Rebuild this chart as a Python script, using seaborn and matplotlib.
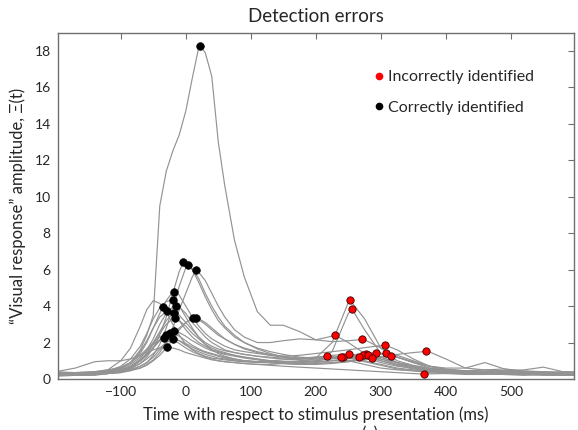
import matplotlib
matplotlib.use('Agg')
import matplotlib.pyplot as plt
from matplotlib.lines import Line2D
import seaborn as sns
import pandas as pd

# sample times (ms) shared by all trials
time_ms = [-200, -170, -140, -120, -100, -85, -70, -60, -50, -40,
           -30, -20, -10, 0, 10, 20, 30, 40, 50, 60,
           75, 90, 110, 130, 150, 175, 200, 225, 250, 275,
           300, 325, 350, 375, 400, 430, 460, 490, 520, 550,
           580, 600]

# visual response amplitude per trial
trial_00 = [0.30, 0.25, 0.35, 0.45, 0.60, 0.90, 1.60, 2.40, 3.50, 9.50,
            11.4, 12.5, 13.4, 14.7, 16.5, 18.2, 17.9, 16.6, 13.0, 10.6,
            7.6, 5.6, 3.7, 2.95, 2.95, 2.6, 2.15, 2.35, 2.0, 1.4,
            1.0, 0.8, 0.7, 0.55, 0.45, 0.4, 0.35, 0.35, 0.3, 0.3,
            0.35, 0.35]
trial_01 = [0.20, 0.25, 0.30, 0.30, 0.40, 0.55, 0.85, 1.20, 1.70, 2.40,
            3.40, 4.70, 5.90, 6.30, 6.00, 5.30, 4.50, 3.80, 3.20, 2.80,
            2.30, 2.00, 1.70, 1.50, 1.35, 1.20, 1.15, 2.00, 4.20, 3.30,
            1.70, 1.00, 0.75, 0.60, 0.50, 0.45, 0.50, 0.45, 0.40, 0.35,
            0.30, 0.30]
trial_02 = [0.30, 0.30, 0.25, 0.30, 0.35, 0.50, 0.70, 0.90, 1.30, 1.90,
            2.80, 3.90, 5.10, 6.10, 6.05, 5.50, 4.70, 4.00, 3.40, 2.90,
            2.40, 2.00, 1.65, 1.40, 1.20, 1.05, 0.95, 1.50, 3.60, 2.70,
            1.40, 0.90, 0.70, 0.55, 0.45, 0.40, 0.35, 0.30, 0.30, 0.35,
            0.40, 0.40]
trial_03 = [0.25, 0.30, 0.35, 0.35, 0.40, 0.50, 0.60, 0.80, 1.05, 1.45,
            2.00, 2.80, 3.80, 4.70, 5.60, 5.85, 5.40, 4.70, 4.00, 3.40,
            2.70, 2.30, 2.00, 2.00, 2.10, 2.20, 2.15, 2.05, 2.10, 2.15,
            1.70, 1.20, 0.90, 0.70, 0.60, 0.60, 0.90, 0.55, 0.40, 0.35,
            0.30, 0.30]
trial_04 = [0.35, 0.30, 0.35, 0.45, 0.60, 0.90, 1.40, 2.00, 2.80, 3.60,
            4.30, 4.78, 4.60, 4.00, 3.40, 2.90, 2.50, 2.20, 2.00, 1.80,
            1.60, 1.50, 1.40, 1.30, 1.25, 1.30, 1.40, 1.50, 1.60, 1.72,
            1.83, 1.60, 1.10, 0.70, 0.50, 0.45, 0.50, 0.55, 0.45, 0.40,
            0.35, 0.35]
trial_05 = [0.20, 0.25, 0.30, 0.40, 0.70, 1.10, 1.80, 2.50, 3.30, 3.90,
            4.25, 4.34, 4.00, 3.40, 2.80, 2.30, 1.90, 1.60, 1.40, 1.25,
            1.10, 1.00, 0.95, 0.90, 0.85, 0.80, 0.85, 0.90, 1.00, 1.10,
            1.20, 1.35, 1.45, 1.48, 1.10, 0.60, 0.50, 0.40, 0.35, 0.30,
            0.30, 0.30]
trial_06 = [0.30, 0.25, 0.30, 0.35, 0.50, 0.70, 1.10, 1.60, 2.20, 3.00,
            3.60, 3.95, 3.95, 3.60, 3.10, 2.70, 2.30, 2.00, 1.80, 1.60,
            1.45, 1.35, 1.25, 1.15, 1.10, 1.10, 1.15, 1.20, 1.30, 1.40,
            1.42, 1.20, 0.90, 0.60, 0.45, 0.35, 0.30, 0.35, 0.40, 0.30,
            0.25, 0.25]
trial_07 = [0.30, 0.35, 0.40, 0.50, 1.00, 1.70, 2.90, 3.80, 4.30, 4.15,
            3.70, 3.00, 2.40, 1.90, 1.60, 1.40, 1.25, 1.15, 1.10, 1.05,
            1.00, 0.95, 0.95, 1.00, 1.05, 1.10, 1.20, 1.22, 1.00, 0.80,
            0.60, 0.50, 0.45, 0.40, 0.35, 0.30, 0.30, 0.35, 0.40, 0.35,
            0.30, 0.30]
trial_08 = [0.20, 0.30, 0.35, 0.40, 0.60, 0.90, 1.50, 2.10, 2.80, 3.40,
            3.70, 3.60, 3.20, 2.70, 2.30, 2.00, 1.80, 1.60, 1.50, 1.40,
            1.30, 1.20, 1.10, 1.00, 0.95, 0.90, 0.95, 1.00, 1.10, 1.25,
            1.38, 1.30, 1.00, 0.70, 0.50, 0.40, 0.35, 0.30, 0.30, 0.35,
            0.30, 0.30]
trial_09 = [0.35, 0.30, 0.25, 0.30, 0.40, 0.60, 1.00, 1.40, 2.00, 2.60,
            3.20, 3.60, 3.50, 3.10, 2.70, 2.30, 2.00, 1.80, 1.65, 1.55,
            1.45, 1.35, 1.25, 1.20, 1.15, 1.15, 1.20, 1.30, 1.36, 1.20,
            0.90, 0.70, 0.60, 0.50, 0.40, 0.35, 0.30, 0.30, 0.25, 0.30,
            0.35, 0.35]
trial_10 = [0.25, 0.20, 0.25, 0.30, 0.35, 0.45, 0.60, 0.75, 1.00, 1.30,
            1.70, 2.20, 2.70, 3.10, 3.33, 3.25, 3.00, 2.70, 2.40, 2.20,
            1.90, 1.70, 1.50, 1.35, 1.25, 1.15, 1.10, 1.15, 1.25, 1.35,
            1.20, 0.90, 0.70, 0.55, 0.45, 0.40, 0.35, 0.30, 0.30, 0.30,
            0.25, 0.25]
trial_11 = [0.30, 0.35, 0.30, 0.30, 0.40, 0.50, 0.70, 0.90, 1.20, 1.60,
            2.00, 2.40, 2.80, 3.10, 3.30, 3.30, 3.10, 2.80, 2.50, 2.20,
            1.90, 1.65, 1.45, 1.30, 1.20, 1.10, 1.10, 1.15, 1.25, 1.30,
            1.10, 0.80, 0.60, 0.50, 0.40, 0.35, 0.40, 0.45, 0.50, 0.65,
            0.40, 0.35]
trial_12 = [0.20, 0.25, 0.30, 0.35, 0.45, 0.65, 1.00, 1.40, 1.90, 2.50,
            3.00, 3.30, 3.20, 2.90, 2.50, 2.20, 1.90, 1.70, 1.55, 1.45,
            1.30, 1.20, 1.10, 1.00, 0.95, 0.95, 1.00, 1.10, 1.20, 1.28,
            1.20, 0.90, 0.70, 0.55, 0.45, 0.35, 0.30, 0.25, 0.25, 0.20,
            0.20, 0.20]
trial_13 = [0.30, 0.30, 0.35, 0.40, 0.50, 0.70, 1.00, 1.30, 1.70, 2.10,
            2.45, 2.60, 2.55, 2.35, 2.10, 1.90, 1.70, 1.55, 1.45, 1.35,
            1.25, 1.15, 1.05, 0.95, 0.90, 0.85, 0.85, 0.90, 0.95, 1.05,
            1.20, 1.20, 0.95, 0.70, 0.55, 0.45, 0.40, 0.35, 0.30, 0.30,
            0.35, 0.35]
trial_14 = [0.25, 0.20, 0.20, 0.30, 0.45, 0.65, 1.00, 1.35, 1.75, 2.15,
            2.45, 2.50, 2.35, 2.10, 1.85, 1.65, 1.50, 1.40, 1.30, 1.20,
            1.10, 1.00, 0.95, 0.90, 0.85, 0.85, 0.90, 1.00, 1.15, 1.20,
            1.00, 0.75, 0.55, 0.45, 0.35, 0.30, 0.30, 0.25, 0.30, 0.35,
            0.30, 0.30]
trial_15 = [0.40, 0.35, 0.40, 0.50, 0.65, 0.90, 1.30, 1.65, 2.00, 2.30,
            2.40, 2.30, 2.10, 1.85, 1.65, 1.50, 1.35, 1.25, 1.15, 1.10,
            1.00, 0.95, 0.90, 0.90, 0.95, 1.00, 1.10, 1.20, 1.20, 1.00,
            0.80, 0.60, 0.50, 0.40, 0.35, 0.30, 0.35, 0.40, 0.35, 0.30,
            0.25, 0.25]
trial_16 = [0.15, 0.20, 0.25, 0.35, 0.55, 0.80, 1.20, 1.55, 1.90, 2.15,
            2.25, 2.15, 1.95, 1.70, 1.50, 1.35, 1.20, 1.10, 1.00, 0.95,
            0.90, 0.85, 0.80, 0.80, 0.85, 0.90, 1.00, 1.15, 1.15, 0.95,
            0.75, 0.55, 0.45, 0.35, 0.30, 0.25, 0.25, 0.30, 0.30, 0.25,
            0.20, 0.20]
trial_17 = [0.30, 0.25, 0.30, 0.35, 0.45, 0.60, 0.85, 1.10, 1.40, 1.70,
            2.00, 2.15, 2.10, 1.95, 1.75, 1.60, 1.45, 1.35, 1.25, 1.15,
            1.05, 1.00, 0.95, 0.90, 0.85, 0.80, 0.80, 0.85, 0.95, 1.10,
            1.10, 0.90, 0.65, 0.50, 0.40, 0.35, 0.30, 0.30, 0.35, 0.40,
            0.35, 0.30]
trial_18 = [0.40, 0.60, 0.95, 1.00, 1.00, 1.10, 1.30, 1.45, 1.60, 1.70,
            1.75, 1.70, 1.60, 1.45, 1.35, 1.25, 1.15, 1.05, 1.00, 0.95,
            0.90, 0.85, 0.80, 0.75, 0.70, 0.65, 0.60, 0.55, 0.50, 0.45,
            0.40, 0.35, 0.30, 0.28, 0.30, 0.35, 0.30, 0.25, 0.20, 0.25,
            0.30, 0.30]

# detected peaks, one per trial (same order as trials)
correct_t = [21.5, -3.7, 3.1, 15.4, -18, -19, -14.5, -35, -29, -18,
             10.8, 15.8, -16.5, -18, -24, -30, -33, -19, -29]
correct_v = [18.28, 6.40, 6.27, 5.96, 4.80, 4.35, 4.02, 3.97, 3.71, 3.62,
             3.34, 3.34, 3.33, 2.62, 2.53, 2.40, 2.25, 2.17, 1.75]
wrong_t = [229.7, 252.8, 256, 271.7, 307, 369, 293, 217.8, 308, 251.5,
           277, 273, 280, 315, 267, 241.5, 238.5, 286.6, 366]
wrong_v = [2.40, 4.31, 3.82, 2.17, 1.85, 1.51, 1.44, 1.24, 1.40, 1.36,
           1.36, 1.31, 1.29, 1.24, 1.22, 1.22, 1.20, 1.16, 0.27]

trials = [trial_00, trial_01, trial_02, trial_03, trial_04, trial_05, trial_06,
          trial_07, trial_08, trial_09, trial_10, trial_11, trial_12, trial_13,
          trial_14, trial_15, trial_16, trial_17, trial_18]

frames = []
for i, vals in enumerate(trials):
    t = time_ms + [correct_t[i], wrong_t[i]]
    v = vals + [correct_v[i], wrong_v[i]]
    frames.append(pd.DataFrame({'time': t, 'amp': v, 'trial': i}))
df = pd.concat(frames).sort_values(['trial', 'time'])

sns.set_theme(style='white')
plt.rcParams['font.family'] = ['Lato', 'DejaVu Sans']

fig, ax = plt.subplots(figsize=(5.78, 4.30), dpi=100)
fig.subplots_adjust(left=0.0998, right=0.993, bottom=0.1186, top=0.924)

sns.lineplot(data=df, x='time', y='amp', units='trial', estimator=None,
             color='#939393', linewidth=0.85, ax=ax, legend=False)
sns.scatterplot(x=correct_t, y=correct_v, color='black', edgecolor='black',
                s=30, linewidth=0.5, ax=ax, zorder=3)
sns.scatterplot(x=wrong_t, y=wrong_v, color='#ff0000', edgecolor='#400000',
                s=28, linewidth=0.6, ax=ax, zorder=3)

ax.set_xlim(-197, 597)
ax.set_ylim(0, 19)
ax.set_xticks([-100, 0, 100, 200, 300, 400, 500])
ax.set_xticklabels(['\u2212100', '0', '100', '200', '300', '400', '500'])
ax.set_yticks(range(0, 19, 2))
ax.tick_params(direction='in', top=True, right=True, length=4, width=0.8,
               color='#707070', labelsize=10, pad=5)
for sp in ax.spines.values():
    sp.set_color('#707070')
    sp.set_linewidth(1.0)

ax.set_title('Detection errors', fontsize=13.5, pad=8)
ax.set_xlabel('Time with respect to stimulus presentation (ms)', fontsize=12, labelpad=6)
ax.set_ylabel('\u201cVisual response\u201d amplitude, \u039e(t)', fontsize=12, labelpad=6)

handles = [Line2D([], [], ls='none', marker='o', color='#ff0000', markersize=4.5),
           Line2D([], [], ls='none', marker='o', color='black', markersize=4.5)]
ax.legend(handles, ['Incorrectly identified', 'Correctly identified'],
          loc='upper left', bbox_to_anchor=(0.6, 0.91), frameon=False,
          fontsize=11.5, handlelength=0.6, handletextpad=0.3, labelspacing=1.0,
          borderaxespad=0)

# panel label, cut by the lower edge as in the source figure
fig.text(0.64, -0.022, '(a)', fontsize=12, ha='center', va='baseline')

fig.savefig('out.png', dpi=100)
